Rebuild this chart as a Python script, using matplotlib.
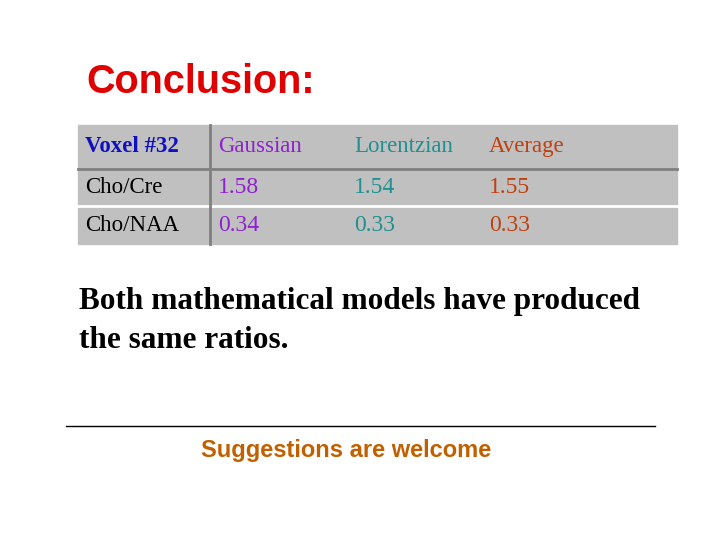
import matplotlib
matplotlib.use("Agg")
import matplotlib.pyplot as plt
from matplotlib.patches import Rectangle

columns = ["Voxel #32", "Gaussian", "Lorentzian", "Average"]
row_labels = ["Cho/Cre", "Cho/NAA"]
values = [["1.58", "1.54", "1.55"], ["0.34", "0.33", "0.33"]]
col_colors = ["#1010C0", "#9020D0", "#209090", "#C04010"]

fig = plt.figure(figsize=(7.2, 5.4), dpi=100)
ax = fig.add_axes([0, 0, 1, 1])
ax.set_xlim(0, 720); ax.set_ylim(540, 0); ax.axis("off")

ax.text(86, 82, "Conclusion:", fontsize=28.5, fontweight="bold", color="#E00000",
        family="Liberation Sans", va="center")

ax.add_patch(Rectangle((78, 125), 599, 119, color="#C0C0C0", zorder=0))
rows_y = [(125, 168), (170, 205), (207, 244)]
for y in (169, 206):
    ax.plot([78, 677], [y, y], color="#808080" if y == 169 else "white", lw=2)
ax.plot([210, 210], [125, 244], color="#808080", lw=2)
col_x = [85, 218, 354, 489]
serif = "Liberation Serif"
for j, c in enumerate(columns):
    ax.text(col_x[j], sum(rows_y[0]) / 2, c, fontsize=16.5, color=col_colors[j],
            family=serif, va="center", fontweight="bold" if j == 0 else "normal")
for i, r in enumerate(row_labels):
    yc = sum(rows_y[i + 1]) / 2
    ax.text(col_x[0], yc, r, fontsize=16.5, color="black", family=serif, va="center")
    for j, v in enumerate(values[i]):
        ax.text(col_x[j + 1], yc, v, fontsize=17, color=col_colors[j + 1], family=serif, va="center")

ax.text(79, 301, "Both mathematical models have produced", fontsize=22.5, fontweight="bold",
        family=serif, va="center")
ax.text(79, 340, "the same ratios.", fontsize=22.5, fontweight="bold", family=serif, va="center")

ax.plot([66, 655], [426, 426], color="black", lw=1)
ax.text(346, 451, "Suggestions are welcome", fontsize=17, fontweight="bold", color="#C06000",
        family="Liberation Sans", va="center", ha="center")

fig.savefig("out.png", dpi=100)
